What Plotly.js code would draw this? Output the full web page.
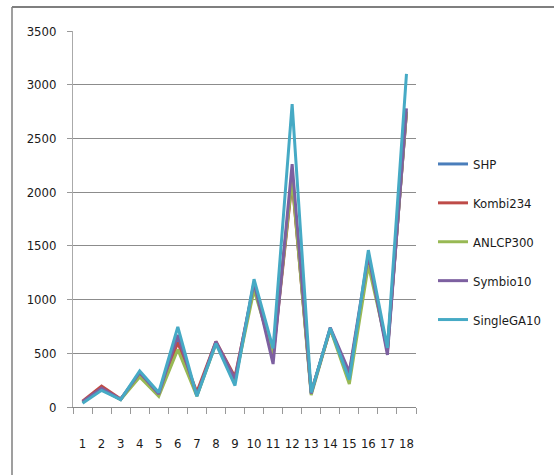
<!DOCTYPE html>
<html>
<head>
<meta charset="utf-8">
<script src="https://cdn.plot.ly/plotly-3.0.1.min.js"></script>
<style>
  html, body { margin: 0; padding: 0; background: #fff; }
  #chart { width: 554px; height: 475px; }
</style>
</head>
<body>
<div id="chart"></div>
<script>
const categories = ['1','2','3','4','5','6','7','8','9','10','11','12','13','14','15','16','17','18'];
const seriesNames = ['SHP', 'Kombi234', 'ANLCP300', 'Symbio10', 'SingleGA10'];
const shp      = [45, 170, 70, 310, 130, 620, 110, 600, 240, 1150, 480, 2150, 130, 730, 290, 1400, 520, 2750];
const kombi234 = [55, 195, 75, 300, 125, 600, 140, 610, 280, 1130, 470, 2100, 140, 720, 300, 1380, 530, 2740];
const anlcp300 = [45, 165, 70, 280, 100, 535, 100, 590, 250, 1090, 500, 2120, 110, 725, 215, 1320, 540, 2750];
const symbio10 = [50, 175, 72, 320, 120, 670, 110, 610, 260, 1160, 400, 2260, 125, 740, 325, 1420, 485, 2780];
const singleGA10 = [35, 155, 70, 335, 135, 745, 100, 590, 200, 1190, 545, 2820, 135, 735, 255, 1460, 550, 3100];
const yTicks = [0, 500, 1000, 1500, 2000, 2500, 3000, 3500];

const colors = ['#4A7EBB', '#BE4B48', '#98B954', '#7D60A0', '#46AAC5'];
const allSeries = [shp, kombi234, anlcp300, symbio10, singleGA10];

const FONT = '"DejaVu Sans Condensed", "Liberation Sans", sans-serif';
const FS = 13;

const traces = allSeries.map((vals, i) => ({
  type: 'scatter',
  mode: 'lines',
  x: categories,
  y: vals,
  name: seriesNames[i],
  legendgroup: 'g' + i,
  line: { color: colors[i], width: 3 }
}));

// plot area in pixels: left 73, right 416, top 31, bottom 407
const L = 73, R = 416, T = 31, B = 407;
const px2x = p => (p - L) / (R - L);
const px2y = p => (B - p) / (B - T);

const layout = {
  width: 554,
  height: 475,
  margin: { l: L, r: 554 - R, t: T, b: 475 - B, pad: 0, autoexpand: false },
  paper_bgcolor: '#ffffff',
  plot_bgcolor: '#ffffff',
  font: { family: FONT, size: FS, color: '#1a1a1a' },
  showlegend: true,
  legend: {
    x: px2x(433), xanchor: 'left',
    y: px2y(242), yanchor: 'middle',
    traceorder: 'grouped',
    tracegroupgap: 19,
    font: { family: FONT, size: FS, color: '#1a1a1a' },
    bgcolor: 'rgba(0,0,0,0)',
    itemwidth: 30
  },
  xaxis: {
    type: 'category',
    range: [-0.5, 17.5],
    tickson: 'boundaries',
    ticks: 'outside',
    ticklen: 6,
    tickcolor: '#999',
    tickangle: 0,
    showgrid: false,
    showline: true,
    linecolor: '#888',
    linewidth: 1,
    ticklabelstandoff: 24,
    tickfont: { family: FONT, size: FS, color: '#1a1a1a' },
    fixedrange: true,
    zeroline: false,
    automargin: false
  },
  yaxis: {
    range: [0, 3500],
    tickvals: yTicks,
    ticktext: yTicks.map(String),
    ticks: 'outside',
    ticklen: 5,
    tickcolor: '#999',
    showgrid: true,
    gridcolor: '#8c8c8c',
    gridwidth: 1,
    showline: true,
    linecolor: '#aaa',
    linewidth: 1,
    zeroline: false,
    ticklabelstandoff: 8,
    tickfont: { family: FONT, size: FS, color: '#1a1a1a' },
    fixedrange: true,
    automargin: false
  },
  shapes: [
    { type: 'line', xref: 'paper', yref: 'paper',
      x0: px2x(12), x1: px2x(560), y0: px2y(7), y1: px2y(7),
      line: { color: '#7f7f7f', width: 2 } },
    { type: 'line', xref: 'paper', yref: 'paper',
      x0: px2x(12), x1: px2x(12), y0: px2y(7), y1: px2y(480),
      line: { color: '#7f7f7f', width: 1.5 } }
  ]
};

Plotly.newPlot('chart', traces, layout, { displayModeBar: false, staticPlot: true });
</script>
</body>
</html>
